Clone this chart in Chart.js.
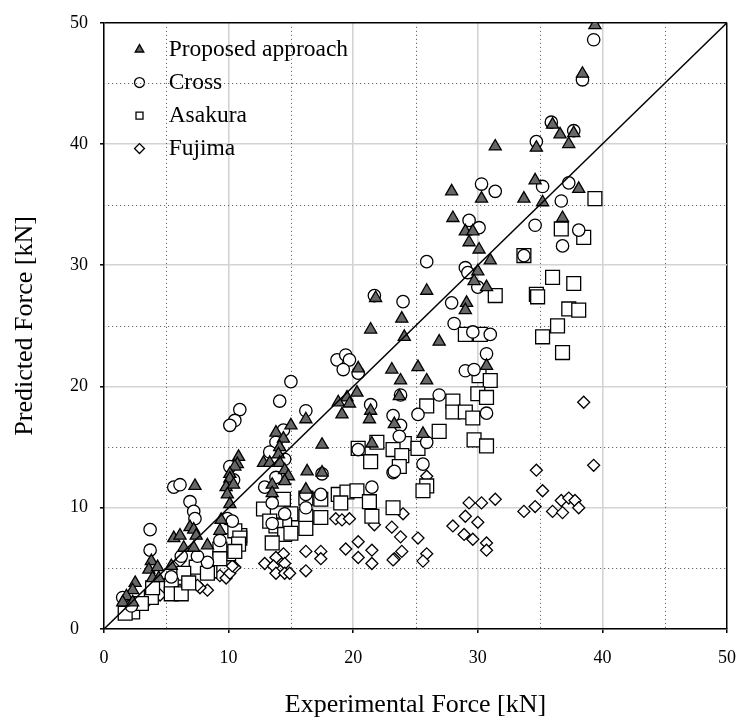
<!DOCTYPE html>
<html>
<head>
<meta charset="utf-8">
<script src="https://cdn.jsdelivr.net/npm/chart.js@4.4.1/dist/chart.umd.min.js"></script>
<style>
  html, body { margin: 0; padding: 0; background: #fff; }
  #wrap { width: 750px; height: 722px; }
</style>
</head>
<body>
<div id="wrap"><canvas id="c" width="750" height="722"></canvas></div>
<script>
// ---- data (x = Experimental Force [kN], y = Predicted Force [kN]) ----
const seriesNames = ['Proposed approach', 'Cross', 'Asakura', 'Fujima'];
const axisTicks = [0, 10, 20, 30, 40, 50];
const minorTicks = [5, 15, 25, 35, 45];
const diagonal = [[0, 0], [50, 50]];

const proposed = [
  [39.4,49.8],[38.4,45.8],[36.0,41.6],[36.6,40.8],[37.7,40.9],[37.3,40.0],[34.7,39.7],[31.4,39.8],
  [34.6,37.0],[38.1,36.3],[35.2,35.2],[36.8,33.9],[33.7,35.5],[30.3,35.5],[27.9,36.1],[28.0,33.9],
  [29.0,32.8],[29.6,32.8],[29.3,31.9],[30.1,31.3],[31.0,30.4],[30.0,29.5],[29.7,28.7],[30.7,28.2],
  [21.8,27.3],[25.9,27.9],[29.1,26.9],[29.0,26.3],[23.9,25.6],[21.4,24.7],[24.1,24.1],[26.9,23.7],
  [30.7,21.7],[23.1,21.4],[25.2,21.6],[23.8,20.5],[25.9,20.5],[23.7,19.2],[23.3,16.9],[25.6,16.1],
  [20.4,21.5],[20.3,19.5],[19.5,19.1],[18.8,18.7],[19.7,18.6],[19.1,17.7],[21.4,18.0],[21.3,17.3],
  [16.2,17.3],[15.0,16.8],[13.8,16.2],[14.4,15.7],[14.1,15.0],[14.0,14.4],[12.8,13.7],[13.3,13.7],
  [14.1,13.7],[10.8,14.2],[14.5,13.1],[14.8,12.6],[14.5,12.2],[17.5,15.2],[16.3,13.0],[17.5,12.9],
  [13.5,11.9],[13.5,11.2],[16.2,11.5],[21.5,15.3],[10.7,13.6],[10.5,13.4],[10.1,12.8],[10.1,12.4],
  [9.8,11.7],[10.4,11.9],[9.9,11.1],[10.1,10.3],[9.4,9.0],[9.3,8.1],[7.3,11.8],[6.9,8.4],
  [7.2,8.2],[7.4,7.7],[5.6,7.5],[6.1,7.7],[6.4,6.7],[7.2,6.7],[8.3,6.9],[5.4,5.2],
  [3.8,5.6],[3.6,4.9],[4.3,5.1],[3.9,4.2],[4.4,4.2],[2.5,3.8],[2.3,3.2],[1.8,2.7],
  [1.5,2.2],[2.3,2.2]
];

const cross = [
  [39.3,48.6],[38.4,45.3],[35.9,41.8],[37.7,41.1],[34.7,40.2],[35.2,36.5],[37.3,36.8],[36.7,35.3],
  [34.6,33.3],[38.1,32.9],[36.8,31.6],[30.3,36.7],[31.4,36.1],[29.3,33.7],[30.1,33.1],[33.7,30.8],
  [25.9,30.3],[29.0,29.8],[29.2,29.4],[30.0,28.2],[21.7,27.5],[24.0,27.0],[27.9,26.9],[28.1,25.2],
  [29.6,24.5],[31.0,24.3],[30.7,22.7],[29.0,21.3],[29.7,21.4],[23.8,19.3],[26.9,19.3],[25.2,17.7],
  [30.7,17.8],[23.2,17.6],[23.8,16.8],[23.7,15.9],[25.9,15.4],[23.2,12.9],[25.6,13.6],[18.7,22.2],
  [19.4,22.6],[19.7,22.2],[19.2,21.4],[20.4,21.1],[15.0,20.4],[14.1,18.8],[21.4,18.5],[16.2,18.0],
  [10.9,18.1],[10.5,17.2],[10.1,16.8],[14.4,16.4],[13.8,15.4],[13.3,14.6],[14.5,14.0],[13.8,12.5],
  [17.5,12.8],[12.9,11.7],[16.2,11.1],[17.4,11.1],[13.5,10.4],[14.5,9.5],[13.5,8.7],[16.2,10.0],
  [21.5,11.7],[20.4,14.8],[23.3,13.0],[5.6,11.7],[6.1,11.9],[6.9,10.5],[7.2,9.7],[7.3,9.1],
  [3.7,8.2],[3.7,6.5],[5.4,4.3],[8.3,5.5],[7.5,6.0],[9.3,7.3],[9.9,9.1],[10.3,8.9],
  [10.1,13.4],[10.4,12.3],[1.5,2.6],[6.2,6.0],[2.2,1.9]
];

const asakura = [
  [39.4,35.5],[36.7,33.0],[38.5,32.3],[36.0,29.0],[37.7,28.5],[34.7,27.6],[34.8,27.4],[37.3,26.4],
  [38.1,26.3],[36.4,25.0],[35.2,24.1],[36.8,22.8],[33.7,30.8],[31.4,27.5],[29.0,24.3],[30.2,24.3],
  [30.1,20.9],[31.0,20.5],[28.0,18.8],[30.0,19.4],[30.7,19.1],[25.9,18.4],[28.0,17.9],[29.0,17.9],
  [29.6,17.4],[24.1,15.3],[21.9,15.4],[26.9,16.3],[29.7,15.6],[30.7,15.1],[25.2,14.9],[23.2,14.8],
  [23.9,14.3],[23.7,13.4],[25.9,11.8],[25.6,11.4],[23.2,10.0],[20.4,14.9],[21.4,13.8],[18.8,11.1],
  [19.5,11.3],[20.3,11.4],[19.0,10.4],[21.3,10.5],[21.5,9.3],[17.4,10.7],[16.2,10.8],[14.4,10.7],
  [12.8,9.9],[15.0,9.5],[14.5,8.6],[13.8,8.5],[13.3,8.9],[14.5,7.8],[15.0,7.9],[13.5,7.1],
  [16.2,9.3],[17.4,9.2],[16.2,8.3],[10.9,7.7],[10.1,7.3],[10.0,6.2],[9.3,6.6],[8.5,4.8],
  [7.4,5.1],[6.4,4.6],[5.4,3.6],[5.4,2.9],[3.8,2.6],[3.9,3.4],[2.3,1.4],[1.7,1.3],
  [3.0,2.1],[10.5,8.1],[10.9,7.5],[10.8,7.0],[10.5,6.4],[9.3,5.8],[8.3,4.6],[6.2,2.9],
  [6.8,3.8]
];

const fujima = [
  [38.5,18.7],[39.3,13.5],[34.7,13.1],[35.2,11.4],[34.6,10.1],[36.0,9.7],[36.7,10.6],[36.8,9.6],
  [37.3,10.8],[37.8,10.6],[38.1,10.0],[33.7,9.7],[29.3,10.4],[30.3,10.4],[31.4,10.7],[24.0,9.5],
  [23.1,8.4],[23.8,7.6],[25.2,7.5],[23.9,6.4],[23.3,5.8],[25.9,6.2],[25.6,5.6],[28.0,8.5],
  [29.0,9.3],[30.0,8.8],[28.9,7.8],[29.6,7.4],[30.7,7.1],[30.7,6.5],[25.9,12.6],[18.6,9.1],
  [19.1,9.0],[19.7,9.1],[21.7,8.6],[20.4,7.2],[21.5,6.5],[19.4,6.6],[20.4,5.9],[21.5,5.4],
  [16.2,6.4],[17.4,6.4],[17.4,5.8],[16.2,4.8],[14.4,6.2],[13.8,5.9],[12.9,5.4],[14.5,5.4],
  [13.6,5.2],[13.8,4.6],[14.5,4.6],[14.9,4.6],[23.2,5.7],[9.3,4.4],[9.8,4.2],[10.1,4.6],
  [10.5,5.1],[8.3,3.2],[7.7,3.4],[7.5,3.6],[6.1,5.6],[6.1,3.2],[10.3,5.2],[3.5,2.3],
  [4.5,2.8],[2.5,1.8]
];

// ---- chart ----
const toPts = a => a.map(([x, y]) => ({ x, y }));
const SERIF = "'Liberation Serif', 'Times New Roman', serif";
Chart.defaults.font.family = SERIF;
Chart.defaults.color = '#000';

const minorGrid = {
  id: 'minorGrid',
  beforeDatasetsDraw(chart) {
    const { ctx, chartArea: a, scales: { x, y } } = chart;
    ctx.save();
    ctx.strokeStyle = '#6a6a6a';
    ctx.lineWidth = 1;
    ctx.setLineDash([1.2, 2.8]);
    minorTicks.forEach(v => {
      const px = Math.round(x.getPixelForValue(v)) + 0.5;
      ctx.beginPath(); ctx.moveTo(px, a.top); ctx.lineTo(px, a.bottom); ctx.stroke();
      const py = Math.round(y.getPixelForValue(v)) + 0.5;
      ctx.beginPath(); ctx.moveTo(a.left, py); ctx.lineTo(a.right, py); ctx.stroke();
    });
    ctx.restore();
  }
};

const legendPlace = {
  id: 'legendPlace',
  afterLayout(chart) {
    const lg = chart.legend, a = chart.chartArea;
    if (!lg) return;
    lg.left = a.left + 14.5;
    lg.right = a.right;
    lg.top = a.top + 5.5;
    lg.bottom = a.bottom;
  }
};

const mk = (i, data, style, radius, fill) => ({
  label: seriesNames[i],
  data: toPts(data),
  pointStyle: style,
  pointRadius: radius,
  pointHoverRadius: radius,
  backgroundColor: fill,
  borderColor: '#000',
  borderWidth: 1.3,
  showLine: false
});

new Chart(document.getElementById('c'), {
  type: 'scatter',
  data: {
    datasets: [
      {
        type: 'line',
        label: 'y = x',
        data: toPts(diagonal),
        borderColor: '#000',
        borderWidth: 1.5,
        pointRadius: 0,
        showLine: true,
        fill: false
      },
      mk(0, proposed, 'triangle', 7, '#676767'),
      mk(1, cross, 'circle', 6.2, '#ffffff'),
      mk(2, asakura, 'rect', 9.8, '#ffffff'),
      mk(3, fujima, 'rectRot', 6, '#ffffff')
    ]
  },
  options: {
    responsive: false,
    animation: false,
    devicePixelRatio: 1,
    layout: { padding: { left: 70, top: 16, right: 10, bottom: 0 } },
    plugins: {
      tooltip: { enabled: false },
      legend: {
        position: 'chartArea',
        align: 'start',
        labels: {
          usePointStyle: true,
          boxWidth: 23,
          boxHeight: 7,
          padding: 9.5,
          color: '#000',
          font: { family: SERIF, size: 23.5 },
          filter: item => item.datasetIndex !== 0,
          generateLabels(chart) {
            const items = Chart.defaults.plugins.legend.labels.generateLabels(chart);
            items.forEach(it => { it.text = ' ' + it.text; });
            return items;
          }
        }
      }
    },
    scales: {
      x: {
        type: 'linear',
        min: 0, max: 50,
        afterFit(s) { s.height = 93; },
        ticks: {
          stepSize: 10,
          padding: 14,
          font: { family: SERIF, size: 18 },
          color: '#000',
          callback: v => axisTicks.includes(v) ? String(v) : ''
        },
        grid: {
          color: c => (c.tick && c.tick.value === 50) ? '#000' : '#d3d3d3',
          lineWidth: c => (c.tick && c.tick.value === 50) ? 1.5 : 1.6,
          tickColor: '#000',
          tickLength: 4,
          tickWidth: 1.5
        },
        border: { color: '#000', width: 1.5 },
        title: {
          display: true,
          text: 'Experimental Force [kN]',
          font: { family: SERIF, size: 26, lineHeight: 1.2 },
          color: '#000',
          padding: { top: 0, bottom: 1 }
        }
      },
      y: {
        type: 'linear',
        min: 0, max: 50,
        afterFit(s) { s.width = 34; },
        ticks: {
          stepSize: 10,
          padding: 12,
          crossAlign: 'far',
          font: { family: SERIF, size: 18 },
          color: '#000',
          callback: v => axisTicks.includes(v) ? String(v) : ''
        },
        grid: {
          color: c => (c.tick && c.tick.value === 50) ? '#000' : '#d3d3d3',
          lineWidth: c => (c.tick && c.tick.value === 50) ? 1.5 : 1.6,
          tickColor: '#000',
          tickLength: 4,
          tickWidth: 1.5
        },
        border: { color: '#000', width: 1.5 },
        title: {
          display: true,
          text: 'Predicted Force [kN]',
          font: { family: SERIF, size: 26, lineHeight: 1.2 },
          color: '#000',
          padding: { top: -60, bottom: 0 }
        }
      }
    }
  },
  plugins: [minorGrid, legendPlace]
});
</script>
</body>
</html>
